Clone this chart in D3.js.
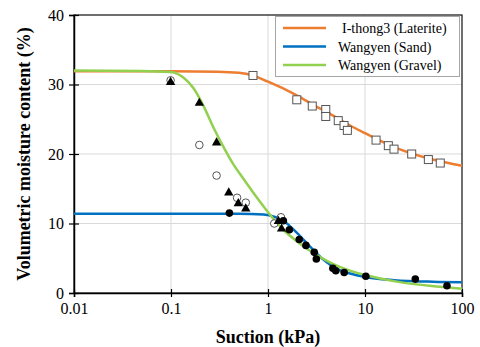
<!DOCTYPE html>
<html><head><meta charset="utf-8">
<script src="https://cdn.jsdelivr.net/npm/d3@7"></script>
<style>body{margin:0;background:#fff}svg{display:block}</style>
</head><body>
<svg id="c" width="480" height="347"></svg>
<script>
// ---- data ----
const xTicks = [0.01, 0.1, 1, 10, 100];
const xTickLabels = ["0.01", "0.1", "1", "10", "100"];
const yTicks = [0, 10, 20, 30, 40];
const seriesNames = ["I-thong3 (Laterite)", "Wangyen (Sand)", "Wangyen (Gravel)"];

// fitted curves [suction kPa, moisture %]
const lateriteCurve = [[0.01,31.9],[0.1,31.9],[0.3,31.85],[0.5,31.7],[0.7,31.3],[1,30.4],[1.5,29.3],[2,28.4],[3,27.0],[5,25.3],[7,24.1],[10,23.0],[20,21.0],[50,19.2],[100,18.3]];
const sandCurve = [[0.01,11.4],[0.1,11.4],[0.5,11.4],[0.9,11.3],[1.2,10.9],[1.44,10.4],[2,8.6],[2.7,6.7],[3.7,4.85],[5,3.55],[7,2.8],[10,2.3],[20,1.85],[50,1.62],[100,1.55]];
const gravelCurve = [[0.01,32.0],[0.05,31.95],[0.1,31.8],[0.134,31.0],[0.17,29.5],[0.215,27.0],[0.27,24.0],[0.345,21.1],[0.44,18.5],[0.56,16.4],[0.7,14.5],[0.93,12.2],[1.18,10.4],[1.44,9.1],[2.14,7.1],[3.15,5.5],[4.66,4.2],[8.3,2.9],[10,2.6],[22,1.6],[59,0.9],[100,0.6]];

// measured points
const lateritePts = [[0.70,31.3],[1.98,27.8],[2.86,26.9],[3.94,26.4],[3.94,25.4],[5.3,24.8],[6.08,24.1],[6.58,23.4],[13.0,22.0],[17.4,21.2],[19.9,20.7],[30.3,20.0],[45,19.2],[59.7,18.7]];
const sandPts = [[0.4,11.5],[1.44,10.4],[1.66,9.1],[2.1,7.7],[2.46,6.85],[3.0,5.85],[3.15,4.9],[4.66,3.55],[5.0,3.2],[6.1,2.95],[10.2,2.4],[33,2.0],[70,1.05]];
const gravelPts = [[0.099,30.4],[0.196,27.4],[0.295,21.7],[0.394,14.5],[0.494,12.95],[0.59,12.2],[1.28,10.4],[1.38,9.3]];
const gravelOpenPts = [[0.099,30.6],[0.196,21.3],[0.295,16.9],[0.48,13.7],[0.59,13.0],[1.16,10.0],[1.36,10.9]];

const colors = ["#ED7D31", "#0070C0", "#92D050"];

// ---- layout ----
const L = 74, R = 462, T = 15, B = 293;
const svg = d3.select("#c");
const x = d3.scaleLog().domain([0.01, 100]).range([L, R]);
const y = d3.scaleLinear().domain([0, 40]).range([B, T]);
const font = "'Liberation Serif','Times New Roman',serif";

// grid
svg.append("g").selectAll("line").data(yTicks.filter(d => d > 0 && d < 40)).join("line")
  .attr("x1", L).attr("x2", R).attr("y1", d => y(d)).attr("y2", d => y(d))
  .attr("stroke", "#d9d9d9").attr("stroke-width", 1);
svg.append("g").selectAll("line").data(xTicks.slice(1, -1)).join("line")
  .attr("x1", d => x(d)).attr("x2", d => x(d)).attr("y1", T).attr("y2", B)
  .attr("stroke", "#d9d9d9").attr("stroke-width", 1);

// frame
svg.append("rect").attr("x", L).attr("y", T).attr("width", R - L).attr("height", B - T)
  .attr("fill", "none").attr("stroke", "#222").attr("stroke-width", 1.3);

// axes
const xAxis = d3.axisBottom(x).tickValues(xTicks).tickFormat((d, i) => xTickLabels[i]).tickSize(4).tickPadding(6);
const gx = svg.append("g").attr("transform", `translate(0,${B})`).call(xAxis);
gx.select(".domain").attr("stroke", "#000").attr("stroke-width", 1.5);
gx.selectAll(".tick line").clone().attr("y2", -4);
gx.selectAll(".tick line").attr("stroke", "#000").attr("stroke-width", 1.2);
gx.selectAll("text").attr("font-family", font).attr("font-size", 16).attr("fill", "#000");

const yAxis = d3.axisLeft(y).tickValues(yTicks).tickSize(5).tickPadding(5);
const gy = svg.append("g").attr("transform", `translate(${L},0)`).call(yAxis);
gy.select(".domain").attr("stroke", "#000").attr("stroke-width", 1.5);
gy.selectAll(".tick line").clone().attr("x2", 5);
gy.selectAll(".tick line").attr("stroke", "#000").attr("stroke-width", 1.2);
gy.selectAll("text").attr("font-family", font).attr("font-size", 16).attr("fill", "#000");

// titles
svg.append("text").attr("x", (L + R) / 2).attr("y", 343).attr("text-anchor", "middle")
  .attr("font-family", font).attr("font-size", 18).attr("font-weight", "bold").text("Suction (kPa)");
svg.append("text").attr("transform", `translate(30,${(T + B) / 2}) rotate(-90)`).attr("text-anchor", "middle")
  .attr("font-family", font).attr("font-size", 18).attr("font-weight", "bold").text("Volumetric moisture content (%)");

// curves
const line = d3.line().x(d => x(d[0])).y(d => y(d[1])).curve(d3.curveMonotoneX);
[lateriteCurve, sandCurve, gravelCurve].forEach((c, i) => {
  svg.append("path").datum(c).attr("d", line).attr("fill", "none")
    .attr("stroke", colors[i]).attr("stroke-width", 2.5);
});

// markers
svg.append("g").selectAll("rect").data(lateritePts).join("rect")
  .attr("x", d => x(d[0]) - 4).attr("y", d => y(d[1]) - 4).attr("width", 8).attr("height", 8)
  .attr("fill", "#fff").attr("stroke", "#555").attr("stroke-width", 1);
svg.append("g").selectAll("circle").data(gravelOpenPts).join("circle")
  .attr("cx", d => x(d[0])).attr("cy", d => y(d[1])).attr("r", 3.8)
  .attr("fill", "#fff").attr("stroke", "#555").attr("stroke-width", 1);
const tri = d3.symbol().type(d3.symbolTriangle).size(38);
svg.append("g").selectAll("path").data(gravelPts).join("path")
  .attr("transform", d => `translate(${x(d[0])},${y(d[1]) + 0.5})`).attr("d", tri).attr("fill", "#000");
svg.append("g").selectAll("circle").data(sandPts).join("circle")
  .attr("cx", d => x(d[0])).attr("cy", d => y(d[1])).attr("r", 3.8).attr("fill", "#000");

// legend
const lg = svg.append("g");
lg.append("rect").attr("x", 275.5).attr("y", 16.5).attr("width", 184).attr("height", 60)
  .attr("fill", "#fff").attr("stroke", "#a6a6a6").attr("stroke-width", 1);
const rowsY = [28, 46.5, 65];
const textX = [342, 338, 338];
seriesNames.forEach((n, i) => {
  lg.append("line").attr("x1", 283).attr("x2", 326).attr("y1", rowsY[i]).attr("y2", rowsY[i])
    .attr("stroke", colors[i]).attr("stroke-width", 2.5);
  lg.append("text").attr("x", textX[i]).attr("y", rowsY[i] + 5).attr("font-family", font)
    .attr("font-size", 14).attr("fill", "#000").text(n);
});
</script>
</body></html>
